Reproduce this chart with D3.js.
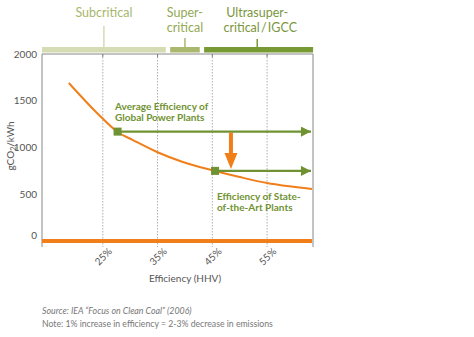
<!DOCTYPE html>
<html>
<head>
<meta charset="utf-8">
<script src="https://cdn.jsdelivr.net/npm/d3@7"></script>
<style>
  body { margin: 0; background: #fff; }
  text { font-family: Lato, "Open Sans", sans-serif; }
</style>
</head>
<body>
<svg id="chart" width="474" height="337"></svg>
<script>
// emissions curve: efficiency (%) vs gCO2/kWh
const curveEff = [18.8, 24.5, 27.7, 30.5, 34.9, 39.6, 45.5, 50.0, 55.0, 58.6, 63.2];
const curveCO2 = [1690, 1337, 1166, 1080, 952, 845, 749, 684, 620, 588, 556];

const xTicks = [25, 35, 45, 55];
const yTicks = [0, 500, 1000, 1500, 2000];

// technology bands along the top (efficiency ranges)
const bandNames = ["Subcritical", "Super-critical", "Ultrasuper-critical / IGCC"];
const bandLines = [["Subcritical"], ["Super-", "critical"], ["Ultrasuper-", "critical / IGCC"]];
const bandFrom = [13.9, 37.3, 43.5];
const bandTo = [36.5, 42.7, 63.4];
const bandMark = [25.2, 40.0, 53.2];

// reference plants
const plantNames = ["Average Efficiency of Global Power Plants", "Efficiency of State-of-the-Art Plants"];
const plantEff = [27.7, 45.5];
const plantCO2 = [1170, 750];

const GREEN = "#6f9232";
const ORANGE = "#f07f1a";
const GRAY = "#777";

const svg = d3.select("#chart");

const x = d3.scaleLinear().domain([13.9, 63.2]).range([42, 312]);
const y = d3.scaleLinear().domain([0, 2000]).range([241, 54]);
const plotTop = 54, plotBottom = 247;

// dotted grid lines at each efficiency tick
svg.selectAll(".grid").data(xTicks).join("line")
  .attr("x1", d => x(d)).attr("x2", d => x(d))
  .attr("y1", plotTop).attr("y2", plotBottom)
  .attr("stroke", "#999").attr("stroke-width", 0.8)
  .attr("stroke-dasharray", "1.5,1.5");

// short ticks under the top border
svg.selectAll(".ttick").data(xTicks).join("line")
  .attr("x1", d => x(d)).attr("x2", d => x(d))
  .attr("y1", plotTop).attr("y2", plotTop + 3)
  .attr("stroke", "#777");

// frame: left, top, right
svg.append("path")
  .attr("d", `M${x.range()[0]},${plotBottom}V${plotTop}H${x.range()[1] + 1}V${plotBottom}`)
  .attr("fill", "none").attr("stroke", "#888").attr("stroke-width", 1);

// bands
const bandColors = ["#d5dbb2", "#a9b86d", "#789a35"];
const textColors = ["#a8b76e", "#93a955", "#7b9640"];
svg.selectAll(".band").data(bandNames).join("rect")
  .attr("x", (d, i) => x(bandFrom[i]))
  .attr("width", (d, i) => x(bandTo[i]) - x(bandFrom[i]))
  .attr("y", 47).attr("height", 5.5)
  .attr("fill", (d, i) => bandColors[i]);

const stemTop = [26, 38, 39];
svg.selectAll(".stem").data(bandNames).join("line")
  .attr("x1", (d, i) => x(bandMark[i])).attr("x2", (d, i) => x(bandMark[i]))
  .attr("y1", (d, i) => stemTop[i]).attr("y2", 47)
  .attr("stroke", (d, i) => i === 0 ? "#d5dbb2" : bandColors[i])
  .attr("stroke-width", 1.5);

bandLines.forEach((lines, i) => {
  const t = svg.append("text")
    .attr("y", 16.5)
    .attr("text-anchor", "middle")
    .attr("font-size", 12.5)
    .attr("word-spacing", -2)
    .attr("fill", textColors[i]);
  lines.forEach((s, j) => t.append("tspan")
    .attr("x", x(bandMark[i]) + (i === 2 && j === 1 ? 3 : 0))
    .attr("dy", j ? 15 : 0).text(s));
});

// y axis labels
svg.selectAll(".ylab").data(yTicks).join("text")
  .attr("x", 37)
  .attr("y", d => y(d) + (d === 0 ? -6 : 0))
  .attr("dy", "0.35em")
  .attr("text-anchor", "end")
  .attr("font-size", 10)
  .attr("fill", "#555")
  .text(d => d);

const yl = svg.append("text")
  .attr("transform", "translate(14,146) rotate(-90)")
  .attr("text-anchor", "middle")
  .attr("font-size", 10)
  .attr("fill", "#555");
yl.append("tspan").text("gCO");
yl.append("tspan").attr("font-size", 7).attr("dy", 2).text("2");
yl.append("tspan").attr("dy", -2).text("/kWh");

// x axis labels
svg.selectAll(".xlab").data(xTicks).join("text")
  .attr("transform", d => `translate(${x(d) + 10},${252}) rotate(-45)`)
  .attr("text-anchor", "end")
  .attr("font-size", 10)
  .attr("fill", "#555")
  .text(d => d + "%");

svg.append("text")
  .attr("x", 185).attr("y", 282)
  .attr("text-anchor", "middle")
  .attr("font-size", 10)
  .attr("fill", "#555")
  .text("Efficiency (HHV)");

// baseline at zero
svg.append("line")
  .attr("x1", x.range()[0]).attr("x2", x.range()[1])
  .attr("y1", y(0)).attr("y2", y(0))
  .attr("stroke", ORANGE).attr("stroke-width", 4);

// emissions curve
const line = d3.line()
  .x((d, i) => x(curveEff[i]))
  .y((d, i) => y(curveCO2[i]))
  .curve(d3.curveMonotoneX);

svg.append("path")
  .datum(curveEff)
  .attr("d", line)
  .attr("fill", "none")
  .attr("stroke", ORANGE)
  .attr("stroke-width", 2);

// arrowhead marker
svg.append("defs").append("marker")
  .attr("id", "gh")
  .attr("viewBox", "0 0 10 10")
  .attr("refX", 10).attr("refY", 5)
  .attr("markerWidth", 5).attr("markerHeight", 4.2)
  .attr("markerUnits", "strokeWidth")
  .attr("orient", "auto")
  .append("path").attr("d", "M0,0L10,5L0,10Z").attr("fill", GREEN);

// horizontal arrows from each plant
svg.selectAll(".harrow").data(plantNames).join("line")
  .attr("x1", (d, i) => x(plantEff[i]))
  .attr("x2", 311)
  .attr("y1", (d, i) => y(plantCO2[i]))
  .attr("y2", (d, i) => y(plantCO2[i]))
  .attr("stroke", GREEN)
  .attr("stroke-width", 2.4)
  .attr("marker-end", "url(#gh)");

svg.selectAll(".sq").data(plantNames).join("rect")
  .attr("x", (d, i) => x(plantEff[i]) - 4)
  .attr("y", (d, i) => y(plantCO2[i]) - 4)
  .attr("width", 8).attr("height", 8)
  .attr("fill", GREEN);

// orange drop arrow between the two levels
const ax = x(48.4);
const ay1 = y(plantCO2[0]) + 1, ay2 = y(plantCO2[1]) - 2;
svg.append("path")
  .attr("d", `M${ax - 2},${ay1}H${ax + 2}V${ay2 - 16}H${ax + 6.5}L${ax},${ay2}L${ax - 6.5},${ay2 - 16}H${ax - 2}Z`)
  .attr("fill", ORANGE);

// plant labels
const labelPos = [[115, 110, ["Average Efficiency of", "Global Power Plants"]],
                  [217, 200, ["Efficiency of State-", "of-the-Art Plants"]]];
labelPos.forEach(([lx, ly, lines]) => {
  const t = svg.append("text")
    .attr("x", lx).attr("y", ly)
    .attr("font-size", 10)
    .attr("font-weight", "bold")
    .attr("fill", GREEN);
  lines.forEach((s, j) => t.append("tspan").attr("x", lx).attr("dy", j ? 11 : 0).text(s));
});

// footnotes
svg.append("text")
  .attr("x", 42).attr("y", 314)
  .attr("font-size", 8.8)
  .attr("font-style", "italic")
  .attr("fill", GRAY)
  .text("Source: IEA \u201cFocus on Clean Coal\u201d (2006)");

svg.append("text")
  .attr("x", 42).attr("y", 327)
  .attr("font-size", 8.7)
  .attr("fill", GRAY)
  .text("Note: 1% increase in efficiency = 2-3% decrease in emissions");
</script>
</body>
</html>
